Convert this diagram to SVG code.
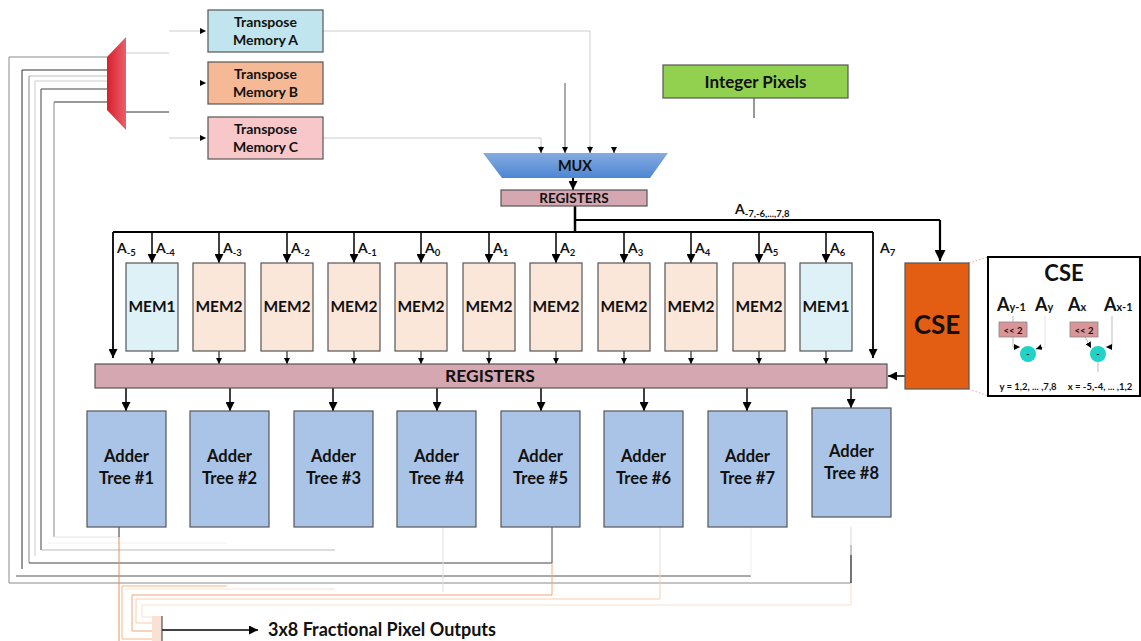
<svg xmlns="http://www.w3.org/2000/svg" width="1141" height="641" viewBox="0 0 1141 641">
  <defs>
    <linearGradient id="redMux" x1="0" y1="0" x2="1" y2="0">
      <stop offset="0" stop-color="#d81f2c"/>
      <stop offset="1" stop-color="#e9606a"/>
    </linearGradient>
    <linearGradient id="blueMux" x1="0" y1="0" x2="0" y2="1">
      <stop offset="0" stop-color="#86abe0"/>
      <stop offset="1" stop-color="#4d86d3"/>
    </linearGradient>
    <marker id="arr" viewBox="0 0 10 10" refX="10" refY="5" markerWidth="9" markerHeight="9" markerUnits="userSpaceOnUse" orient="auto">
      <path d="M0,0 L10,5 L0,10 z" fill="#000"/>
    </marker>
    <marker id="arrS" viewBox="0 0 10 10" refX="10" refY="5" markerWidth="6" markerHeight="6" markerUnits="userSpaceOnUse" orient="auto">
      <path d="M0,0 L10,5 L0,10 z" fill="#000"/>
    </marker>
    <marker id="arrL" viewBox="0 0 10 10" refX="10" refY="5" markerWidth="11" markerHeight="11" markerUnits="userSpaceOnUse" orient="auto">
      <path d="M0,0 L10,5 L0,10 z" fill="#000"/>
    </marker>
  </defs>
  <style>
    text { font-family: Lato, "Liberation Sans", sans-serif; font-weight: bold; fill: #111; text-anchor: middle; }
    .box { stroke: #555; stroke-width: 1.2; }
    .tA { fill: #c0e5ef; }
    .tB { fill: #f5b996; }
    .tC { fill: #f8c7ca; }
    .mem1 { fill: #def1f7; }
    .mem2 { fill: #fbe6da; }
    .adder { fill: #aac4e7; }
    .reg { fill: #d5a7b1; }
    .lbl { font-size: 14px; text-anchor: start; }
    .sub { font-size: 9.5px; }
    .fb { fill: none; stroke-width: 1; }
    .bus { fill: none; stroke: #000; }
  </style>

  <!-- feedback wiring from adder trees back to the input selector and outputs -->
  <g id="connectors">
    <!-- grey feedback lines -->
    <path class="fb" stroke="#8a8a8a" d="M107,57 H9 V583 H851 V545"/>
    <path class="fb" stroke="#d8d8d8" d="M851,545 V527"/>
    <path class="fb" stroke="#222" d="M851,555 V583"/>
    <path class="fb" stroke="#333" d="M107,70 H22 V569"/>
    <path class="fb" stroke="#bbb" d="M107,76 H29"/>
    <path class="fb" stroke="#888" d="M29,76 V563"/>
    <path class="fb" stroke="#444" d="M29,563 H552 V527"/>
    <path class="fb" stroke="#ccc" d="M107,81 H35 V556"/>
    <path class="fb" stroke="#444" d="M107,89 H41 V550"/>
    <path class="fb" stroke="#bbb" d="M41,550 H335"/>
    <path class="fb" stroke="#333" d="M107,102 H54"/>
    <path class="fb" stroke="#888" d="M54,102 V537"/>
    <path class="fb" stroke="#e4e4e4" d="M54,537 H120"/>
    <path class="fb" stroke="#f0f0f0" d="M48,543 H227"/>
    <path class="fb" stroke="#555" d="M16,576 H751"/>
    <path class="fb" stroke="#eee" d="M751,527 V576"/>
    <path class="fb" stroke="#e0e0e0" d="M443,527 V592"/>
    <path class="fb" stroke="#e0e0e0" d="M660,527 V570"/>
    <!-- orange output lines -->
    <path class="fb" stroke="#333" d="M119,527 V537"/>
    <path class="fb" stroke="#e8914f" d="M119,537 V641"/>
    <path class="fb" stroke="#f5b888" stroke-width="1.5" d="M227,586 H122 V639 H152"/>
    <path class="fb" stroke="#fbe2d0" d="M335,589 H125"/>
    <path class="fb" stroke="#f0a878" d="M552,563 V595 H132 V631 H152"/>
    <path class="fb" stroke="#f8cfae" d="M660,570 V599 H136 V623 H152"/>
    <path class="fb" stroke="#fbe0cc" d="M851,583 V605 H142 V617 H152"/>

    <!-- selector to transpose memories -->
    <path class="fb" stroke="#ccc" d="M126,53 H169"/>
    <path class="fb" stroke="#333" d="M126,112 H169"/>
    <line x1="169" y1="31" x2="206" y2="31" stroke="#ccc" marker-end="url(#arrS)"/>
    <line x1="200" y1="83" x2="206" y2="83" stroke="#ccc" marker-end="url(#arrS)"/>
    <line x1="169" y1="138" x2="206" y2="138" stroke="#ccc" marker-end="url(#arrS)"/>

    <!-- transpose memories and integer pixels to MUX -->
    <path class="fb" stroke="#ccc" d="M323,31 H590 V146"/>
    <path class="fb" stroke="#ccc" d="M323,138 H541 V146"/>
    <line x1="541" y1="146" x2="541" y2="153" stroke="#555" marker-end="url(#arrS)"/>
    <line x1="565" y1="83" x2="565" y2="153" stroke="#555" marker-end="url(#arrS)"/>
    <line x1="590" y1="146" x2="590" y2="153" stroke="#555" marker-end="url(#arrS)"/>
    <line x1="614" y1="147" x2="614" y2="153" stroke="#555" marker-end="url(#arrS)"/>
    <line x1="754" y1="98" x2="754" y2="118" stroke="#333"/>

    <!-- MUX to registers -->
    <line x1="573" y1="178" x2="573" y2="190" stroke="#000" stroke-width="2" marker-end="url(#arr)"/>

    <!-- distribution bus -->
    <path class="bus" stroke-width="2.5" d="M575,206 V232"/>
    <path class="bus" stroke-width="1.8" d="M113,232 H873"/>
    <line x1="113" y1="232" x2="113" y2="358" stroke="#000" stroke-width="1.8" marker-end="url(#arr)"/>
    <line x1="873" y1="232" x2="873" y2="358" stroke="#000" stroke-width="1.8" marker-end="url(#arr)"/>
    <path class="bus" stroke-width="2.2" d="M575,220 H940"/>
    <line x1="940" y1="220" x2="940" y2="261" stroke="#000" stroke-width="2.2" marker-end="url(#arrL)"/>

    <!-- bus to memories -->
    <g stroke="#000" stroke-width="1.5">
      <line x1="152" y1="232" x2="152" y2="263" marker-end="url(#arr)"/>
      <line x1="219" y1="232" x2="219" y2="263" marker-end="url(#arr)"/>
      <line x1="287" y1="232" x2="287" y2="263" marker-end="url(#arr)"/>
      <line x1="354" y1="232" x2="354" y2="263" marker-end="url(#arr)"/>
      <line x1="421" y1="232" x2="421" y2="263" marker-end="url(#arr)"/>
      <line x1="489" y1="232" x2="489" y2="263" marker-end="url(#arr)"/>
      <line x1="556" y1="232" x2="556" y2="263" marker-end="url(#arr)"/>
      <line x1="624" y1="232" x2="624" y2="263" marker-end="url(#arr)"/>
      <line x1="691" y1="232" x2="691" y2="263" marker-end="url(#arr)"/>
      <line x1="759" y1="232" x2="759" y2="263" marker-end="url(#arr)"/>
      <line x1="826" y1="232" x2="826" y2="263" marker-end="url(#arr)"/>
    </g>

    <!-- memories to registers -->
    <g stroke="#000" stroke-width="1">
      <line x1="152" y1="351" x2="152" y2="364" marker-end="url(#arrS)"/>
      <line x1="219" y1="351" x2="219" y2="364" marker-end="url(#arrS)"/>
      <line x1="287" y1="351" x2="287" y2="364" marker-end="url(#arrS)"/>
      <line x1="354" y1="351" x2="354" y2="364" marker-end="url(#arrS)"/>
      <line x1="421" y1="351" x2="421" y2="364" marker-end="url(#arrS)"/>
      <line x1="489" y1="351" x2="489" y2="364" marker-end="url(#arrS)"/>
      <line x1="556" y1="351" x2="556" y2="364" marker-end="url(#arrS)"/>
      <line x1="624" y1="351" x2="624" y2="364" marker-end="url(#arrS)"/>
      <line x1="691" y1="351" x2="691" y2="364" marker-end="url(#arrS)"/>
      <line x1="759" y1="351" x2="759" y2="364" marker-end="url(#arrS)"/>
      <line x1="826" y1="351" x2="826" y2="364" marker-end="url(#arrS)"/>
    </g>

    <!-- registers to adder trees -->
    <g stroke="#000" stroke-width="1.5">
      <line x1="126" y1="388" x2="126" y2="411" marker-end="url(#arr)"/>
      <line x1="230" y1="388" x2="230" y2="411" marker-end="url(#arr)"/>
      <line x1="333" y1="388" x2="333" y2="411" marker-end="url(#arr)"/>
      <line x1="437" y1="388" x2="437" y2="411" marker-end="url(#arr)"/>
      <line x1="541" y1="388" x2="541" y2="411" marker-end="url(#arr)"/>
      <line x1="644" y1="388" x2="644" y2="411" marker-end="url(#arr)"/>
      <line x1="747" y1="388" x2="747" y2="411" marker-end="url(#arr)"/>
      <line x1="851" y1="388" x2="851" y2="408" marker-end="url(#arr)"/>
    </g>

    <!-- CSE to registers -->
    <line x1="905" y1="376" x2="888" y2="376" stroke="#000" stroke-width="1.5" marker-end="url(#arr)"/>

    <!-- CSE zoom guides -->
    <path fill="none" stroke="#f2a0a0" stroke-width="1" stroke-dasharray="1.5,2" d="M969,263 L988,257 M969,389 L988,396"/>

    <!-- output arrow -->
    <line x1="162" y1="630" x2="258" y2="630" stroke="#000" stroke-width="1.5" marker-end="url(#arr)"/>

    <!-- bus labels -->
    <text class="lbl" x="117" y="253">A<tspan class="sub" dy="3">-5</tspan></text>
    <text class="lbl" x="156" y="253">A<tspan class="sub" dy="3">-4</tspan></text>
    <text class="lbl" x="223" y="253">A<tspan class="sub" dy="3">-3</tspan></text>
    <text class="lbl" x="291" y="253">A<tspan class="sub" dy="3">-2</tspan></text>
    <text class="lbl" x="358" y="253">A<tspan class="sub" dy="3">-1</tspan></text>
    <text class="lbl" x="425" y="253">A<tspan class="sub" dy="3">0</tspan></text>
    <text class="lbl" x="493" y="253">A<tspan class="sub" dy="3">1</tspan></text>
    <text class="lbl" x="560" y="253">A<tspan class="sub" dy="3">2</tspan></text>
    <text class="lbl" x="628" y="253">A<tspan class="sub" dy="3">3</tspan></text>
    <text class="lbl" x="695" y="253">A<tspan class="sub" dy="3">4</tspan></text>
    <text class="lbl" x="763" y="253">A<tspan class="sub" dy="3">5</tspan></text>
    <text class="lbl" x="830" y="253">A<tspan class="sub" dy="3">6</tspan></text>
    <text class="lbl" x="880" y="253">A<tspan class="sub" dy="3">7</tspan></text>
    <text class="lbl" x="735" y="214">A<tspan class="sub" dy="3">-7,-6,...,7,8</tspan></text>
  </g>

  <!-- input selector -->
  <g id="selector">
    <polygon points="107,57 126,37 126,130 107,110" fill="url(#redMux)"/>
  </g>

  <g id="transposeA">
    <rect class="box tA" x="208" y="10" width="115" height="42"/>
    <text x="265.5" y="27" font-size="14">Transpose</text>
    <text x="265.5" y="45" font-size="14">Memory A</text>
  </g>
  <g id="transposeB">
    <rect class="box tB" x="208" y="62" width="115" height="42"/>
    <text x="265.5" y="79" font-size="14">Transpose</text>
    <text x="265.5" y="97" font-size="14">Memory B</text>
  </g>
  <g id="transposeC">
    <rect class="box tC" x="208" y="117" width="115" height="42"/>
    <text x="265.5" y="134" font-size="14">Transpose</text>
    <text x="265.5" y="152" font-size="14">Memory C</text>
  </g>

  <g id="integerPixels">
    <rect class="box" x="663" y="65" width="185" height="33" fill="#92d050"/>
    <text x="755.5" y="87.5" font-size="17">Integer Pixels</text>
  </g>

  <g id="mux">
    <polygon points="483,153 668,153 650,178 502,178" fill="url(#blueMux)"/>
    <text x="575" y="170.5" font-size="14.5">MUX</text>
  </g>

  <g id="inputRegisters">
    <rect class="box reg" x="501" y="190" width="146" height="16"/>
    <text x="574" y="203" font-size="13.5">REGISTERS</text>
  </g>

  <!-- line buffer memories -->
  <g id="mem01"><rect class="box mem1" x="126" y="263" width="52" height="88"/><text x="152" y="312" font-size="15.5">MEM1</text></g>
  <g id="mem02"><rect class="box mem2" x="193" y="263" width="52" height="88"/><text x="219" y="312" font-size="15.5">MEM2</text></g>
  <g id="mem03"><rect class="box mem2" x="261" y="263" width="52" height="88"/><text x="287" y="312" font-size="15.5">MEM2</text></g>
  <g id="mem04"><rect class="box mem2" x="328" y="263" width="52" height="88"/><text x="354" y="312" font-size="15.5">MEM2</text></g>
  <g id="mem05"><rect class="box mem2" x="395" y="263" width="52" height="88"/><text x="421" y="312" font-size="15.5">MEM2</text></g>
  <g id="mem06"><rect class="box mem2" x="463" y="263" width="52" height="88"/><text x="489" y="312" font-size="15.5">MEM2</text></g>
  <g id="mem07"><rect class="box mem2" x="530" y="263" width="52" height="88"/><text x="556" y="312" font-size="15.5">MEM2</text></g>
  <g id="mem08"><rect class="box mem2" x="598" y="263" width="52" height="88"/><text x="624" y="312" font-size="15.5">MEM2</text></g>
  <g id="mem09"><rect class="box mem2" x="665" y="263" width="52" height="88"/><text x="691" y="312" font-size="15.5">MEM2</text></g>
  <g id="mem10"><rect class="box mem2" x="733" y="263" width="52" height="88"/><text x="759" y="312" font-size="15.5">MEM2</text></g>
  <g id="mem11"><rect class="box mem1" x="800" y="263" width="52" height="88"/><text x="826" y="312" font-size="15.5">MEM1</text></g>

  <g id="registers">
    <rect class="box reg" x="95" y="364" width="792" height="24"/>
    <text x="490" y="382" font-size="17.5">REGISTERS</text>
  </g>

  <g id="cse">
    <rect class="box" x="905" y="263" width="64" height="126" fill="#e35d13"/>
    <text x="937" y="334" font-size="26">CSE</text>
  </g>

  <!-- adder trees -->
  <g id="adder1"><rect class="box adder" x="87" y="411" width="79" height="116"/><text x="126.5" y="462" font-size="16.5">Adder</text><text x="126.5" y="484" font-size="16.5">Tree #1</text></g>
  <g id="adder2"><rect class="box adder" x="190" y="411" width="79" height="116"/><text x="229.5" y="462" font-size="16.5">Adder</text><text x="229.5" y="484" font-size="16.5">Tree #2</text></g>
  <g id="adder3"><rect class="box adder" x="294" y="411" width="79" height="116"/><text x="333.5" y="462" font-size="16.5">Adder</text><text x="333.5" y="484" font-size="16.5">Tree #3</text></g>
  <g id="adder4"><rect class="box adder" x="397" y="411" width="79" height="116"/><text x="436.5" y="462" font-size="16.5">Adder</text><text x="436.5" y="484" font-size="16.5">Tree #4</text></g>
  <g id="adder5"><rect class="box adder" x="501" y="411" width="79" height="116"/><text x="540.5" y="462" font-size="16.5">Adder</text><text x="540.5" y="484" font-size="16.5">Tree #5</text></g>
  <g id="adder6"><rect class="box adder" x="604" y="411" width="79" height="116"/><text x="643.5" y="462" font-size="16.5">Adder</text><text x="643.5" y="484" font-size="16.5">Tree #6</text></g>
  <g id="adder7"><rect class="box adder" x="708" y="411" width="79" height="116"/><text x="747.5" y="462" font-size="16.5">Adder</text><text x="747.5" y="484" font-size="16.5">Tree #7</text></g>
  <g id="adder8"><rect class="box adder" x="812" y="408" width="79" height="109"/><text x="851.5" y="457" font-size="16.5">Adder</text><text x="851.5" y="479" font-size="16.5">Tree #8</text></g>

  <!-- CSE detail -->
  <g id="cseDetail">
    <rect x="988" y="257" width="152" height="139" fill="#fff" stroke="#000" stroke-width="2"/>
    <text x="1064" y="281" font-size="22">CSE</text>
    <text x="997" y="311" font-size="18" style="text-anchor:start">A<tspan font-size="11">y-1</tspan></text>
    <text x="1035" y="311" font-size="18" style="text-anchor:start">A<tspan font-size="11">y</tspan></text>
    <text x="1068" y="311" font-size="18" style="text-anchor:start">A<tspan font-size="11">x</tspan></text>
    <text x="1104" y="311" font-size="18" style="text-anchor:start">A<tspan font-size="11">x-1</tspan></text>
    <line x1="1013" y1="316" x2="1013" y2="322" stroke="#aaa" stroke-width="0.8"/>
    <path d="M1013,337 V347 H1020" fill="none" stroke="#aaa" stroke-width="0.8" marker-end="url(#arrS)"/>
    <path d="M1045,316 V347 L1037,349" fill="none" stroke="#ddd" stroke-width="0.8"/>
    <line x1="1042" y1="347" x2="1036" y2="349" stroke="#000" stroke-width="0.8" marker-end="url(#arrS)"/>
    <path d="M1112,316 V347 H1106" fill="none" stroke="#aaa" stroke-width="0.8" marker-end="url(#arrS)"/>
    <line x1="1085" y1="337" x2="1091" y2="348" stroke="#aaa" stroke-width="0.8" marker-end="url(#arrS)"/>
    <line x1="1098" y1="362" x2="1098" y2="372" stroke="#aaa" stroke-width="0.8"/>
    <rect x="999" y="322" width="28" height="15" fill="#d99597" stroke="#888" stroke-width="0.8"/>
    <text x="1013" y="333.5" font-size="9.5">&lt;&lt; 2</text>
    <rect x="1070" y="322" width="28" height="15" fill="#d99597" stroke="#888" stroke-width="0.8"/>
    <text x="1084" y="333.5" font-size="9.5">&lt;&lt; 2</text>
    <circle cx="1028" cy="354" r="8" fill="#1fd3c8"/>
    <text x="1028" y="357" font-size="9">-</text>
    <circle cx="1098" cy="354" r="8" fill="#1fd3c8"/>
    <text x="1098" y="357" font-size="9">-</text>
    <text x="1028" y="390" font-size="9.5">y = 1,2, ... ,7,8</text>
    <text x="1100" y="390" font-size="9.5">x = -5,-4, ... ,1,2</text>
  </g>

  <g id="outputs">
    <rect x="152" y="616" width="10" height="25" fill="#f9e1d3"/>
    <line x1="162" y1="616" x2="162" y2="641" stroke="#333" stroke-width="1"/>
    <text x="268" y="636" font-size="18" style="text-anchor:start">3x8 Fractional Pixel Outputs</text>
  </g>
</svg>
